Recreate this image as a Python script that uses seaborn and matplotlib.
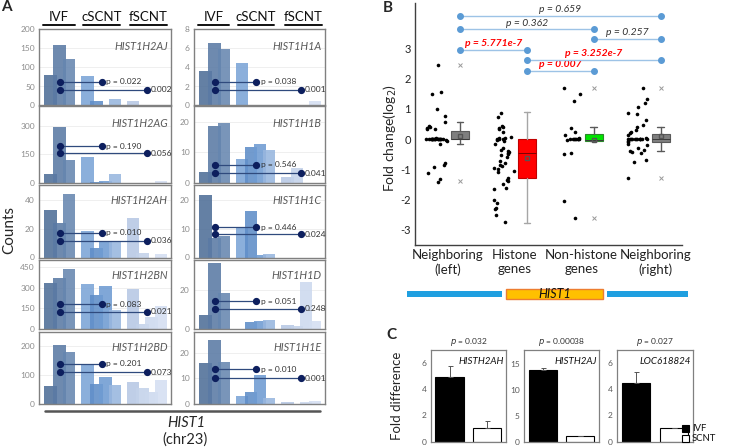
import numpy as np
import pandas as pd
import matplotlib
matplotlib.use("Agg")
import matplotlib.pyplot as plt
import seaborn as sns
from matplotlib.patches import Rectangle

# ---------------- data: panel A ----------------
gene_left = ['HIST1H2AJ', 'HIST1H2AG', 'HIST1H2AH', 'HIST1H2BN', 'HIST1H2BD']
ivf_left = [[80, 160, 122], [49, 295, 122], [32.6, 24, 43.6], [332, 366, 436], [64, 205, 182]]
csc_left = [[77, 12, 0, 18], [134, 6, 12, 46], [18, 6.6, 11.2, 11], [324, 245, 310, 138], [134, 70, 93, 65]]
fsc_left = [[13, 0, 0, 2], [0, 0, 0, 10], [27.3, 3, 0, 2.5], [290, 36, 87, 167], [76, 54, 43, 83]]
pc_left = ['p = 0.022', 'p = 0.190', 'p = 0.010', 'p = 0.083', 'p = 0.201']
pf_left = ['0.002', '0.056', '0.036', '0.021', '0.073']
ymax_left = [200, 400, 50, 500, 250]
ticks_left = [[0, 50, 100, 150, 200], [0, 150, 300], [0, 20, 40], [0, 150, 300, 450], [0, 100, 200]]

gene_right = ['HIST1H1A', 'HIST1H1B', 'HIST1H1C', 'HIST1H1D', 'HIST1H1E']
ivf_right = [[3.6, 6.6, 5.95], [3.5, 18.6, 19.5], [21.7, 6.8, 7.3], [7.1, 33.3, 18.1], [16.1, 25, 16.4]]
csc_right = [[4.45, 0, 0, 0], [7.7, 11.9, 12.9, 10.8], [10.2, 15.9, 0.8, 1.1], [0, 3.5, 4.0, 4.5], [3.3, 4.7, 11.4, 2.3]]
fsc_right = [[0, 0, 0, 0.46], [2.0, 4.9, 0, 0], [0, 0, 0, 0], [2.0, 1.7, 23.8, 3.9], [0.9, 0, 0.7, 1.2]]
pc_right = ['p = 0.038', 'p = 0.546', 'p = 0.446', 'p = 0.051', 'p = 0.010']
pf_right = ['0.001', '0.041', '0.024', '0.248', '0.001']
ymax_right = [8, 25, 25, 35, 28]
ticks_right = [[0, 2, 4, 6, 8], [0, 10, 20], [0, 10, 20], [0, 20], [0, 10, 20]]

group_names_A = ['IVF', 'cSCNT', 'fSCNT']

# ---------------- data: panel B ----------------
b_labels = ['Neighboring\n(left)', 'Histone\ngenes', 'Non-histone\ngenes', 'Neighboring\n(right)']
fc_left = [2.45, 1.57, 1.5, 1.0, 0.77, 0.55, 0.42, 0.4, 0.38, 0.35, 0.33, 0.05, 0.02,
           0, 0, 0, 0, 0, 0, 0, 0, 0, 0, 0, 0, 0, 0, 0, 0,
           -0.02, -0.05, -0.15, -0.78, -0.85, -0.92, -1.13, -1.33, -1.42]
fc_histone = [0.88, 0.72, 0.42, 0.4, 0.37, 0.34, 0.25, 0.08, 0.05, 0.03, 0.0, 0.0, 0.0,
              -0.02, -0.05, -0.15, -0.3, -0.35, -0.38, -0.42, -0.45, -0.5, -0.52, -0.6,
              -0.72, -0.8, -0.85, -0.9, -0.95, -1.0, -1.05, -1.1, -1.3, -1.35, -1.4,
              -1.5, -1.62, -1.65, -2.0, -2.1, -2.28, -2.3, -2.5, -2.75]
fc_nonhistone = [1.68, 1.48, 1.25, 0.38, 0.25, 0.15, 0.03, 0, 0, 0, 0, 0, 0, 0, 0,
                 -0.02, -0.45, -0.5, -2.03, -2.6]
fc_right = [1.68, 1.32, 1.2, 1.05, 0.88, 0.82, 0.63, 0.47, 0.4, 0.3, 0.25, 0.2, 0.15, 0.05,
            0, 0, 0, 0, 0, 0, 0, 0, 0, 0, 0, 0,
            -0.05, -0.1, -0.17, -0.2, -0.3, -0.35, -0.4, -0.42, -0.45, -0.7, -0.75, -1.3]

box_q1 = [0.0, -1.29, -0.06, -0.08]
box_med = [0.02, -0.47, -0.04, 0.0]
box_q3 = [0.27, 0.0, 0.17, 0.16]
box_lo = [-0.17, -2.76, -0.06, -0.38]
box_hi = [0.57, 0.89, 0.39, 0.39]
box_mean = [0.1, -0.63, -0.03, 0.1]
box_fliers = [[2.45, -1.4], [], [1.68, -2.6], [1.68, -1.3]]
box_colors = ['#7f7f7f', '#ff0000', '#00e400', '#7f7f7f']

bracket_pairs = [(0, 3), (0, 2), (2, 3), (0, 1), (1, 3), (1, 2)]
bracket_p = ['p = 0.659', 'p = 0.362', 'p = 0.257', 'p = 5.771e-7', 'p = 3.252e-7', 'p = 0.007']
bracket_sig = [False, False, False, True, True, True]

# ---------------- data: panel C ----------------
c_genes = ['HISTH2AH', 'HISTH2AJ', 'LOC618824']
c_p = ['0.032', '0.00038', '0.027']
c_ivf = [4.9, 13.9, 4.5]
c_ivf_err = [0.85, 0.3, 0.8]
c_scnt = [1.0, 1.0, 1.0]
c_scnt_err = [0.6, 0.0, 0.0]
c_ymax = [7.0, 17.7, 7.0]
c_ticks = [[0, 2, 4, 6], [0, 5, 10, 15], [0, 2, 4, 6]]

# ---------------- figure ----------------
sns.set_theme(style='white')
plt.rcParams['font.family'] = ['Lato', 'DejaVu Sans']

W, H = 736, 448
fig = plt.figure(figsize=(W / 100, H / 100), dpi=100)


def rect(x0, y0, x1, y1):
    return [x0 / W, 1 - y1 / H, (x1 - x0) / W, (y1 - y0) / H]


def ftext(x, y, s, **kw):
    return fig.text(x / W, 1 - y / H, s, **kw)


# ---------------- panel A ----------------
rows_px = [(29.5, 105.5), (106.5, 183), (185, 257.5), (260, 329), (332, 404)]
cols_px = [(39, 171), (194, 325)]
bar_pos = [0, 1, 2, 4, 5, 6, 7, 9, 10, 11, 12]
bar_cols = ['#4f6f98', '#5a7aa4', '#6686b0',
            '#7ba4d6', '#5f8dc8', '#6f9bd2', '#98b6de',
            '#b6c8e4', '#c3d2ea', '#ccd9ee', '#d4dff2']
pline_left = [(0.31, 0.21), (0.48, 0.386), (0.34, 0.23), (0.36, 0.25), (0.56, 0.44)]
pline_right = [(0.31, 0.21), (0.24, 0.13), (0.42, 0.32), (0.40, 0.29), (0.48, 0.36)]

col_data = [
    (gene_left, ivf_left, csc_left, fsc_left, pc_left, pf_left, ymax_left, ticks_left, pline_left),
    (gene_right, ivf_right, csc_right, fsc_right, pc_right, pf_right, ymax_right, ticks_right, pline_right),
]

for ci, (genes, ivf, csc, fsc, pcs, pfs, ymaxs, tks, plines) in enumerate(col_data):
    x0, x1 = cols_px[ci]
    for r in range(5):
        y0, y1 = rows_px[r]
        ax = fig.add_axes(rect(x0, y0, x1, y1))
        vals = ivf[r] + csc[r] + fsc[r]
        ax.bar(bar_pos, vals, width=1.35, color=bar_cols, alpha=0.88, linewidth=0, zorder=2)
        ax.set_xlim(-1.25, 13.1)
        ax.set_ylim(0, ymaxs[r])
        ax.set_yticks(tks[r])
        ax.set_xticks([])
        ax.grid(axis='y', color='#ececec', lw=0.6)
        ax.set_axisbelow(True)
        for s in ax.spines.values():
            s.set_color('#808080')
            s.set_linewidth(1.0)
        ax.tick_params(axis='y', length=0, pad=3, labelsize=6, labelcolor='#8c8c8c')
        ax.text(0.975, 0.78, genes[r], transform=ax.transAxes, ha='right', va='center',
                fontsize=7.8, style='italic', color='#595959')
        tr = ax.get_xaxis_transform()
        yu, yl = plines[r]
        ax.plot([1, 5.55], [yu, yu], color='#2f4a7d', lw=0.9, transform=tr, zorder=5)
        ax.plot([1, 5.55], [yu, yu], 'o', ms=4.2, color='#0d1f5e', transform=tr, zorder=6)
        ax.text(6.05, yu, pcs[r], transform=tr, va='center', fontsize=6, color='#333333')
        ax.plot([1, 10.45], [yl, yl], color='#2f4a7d', lw=0.9, transform=tr, zorder=5)
        ax.plot([1, 10.45], [yl, yl], 'o', ms=4.2, color='#0d1f5e', transform=tr, zorder=6)
        ax.text(10.9, yl, pfs[r], transform=tr, va='center', fontsize=6, color='#333333')

# group headers with underlines
hdr_spans = [[(43, 75), (83, 120), (130, 167)], [(198, 229), (238, 274), (285, 322)]]
for spans in hdr_spans:
    for name, (a, b) in zip(group_names_A, spans):
        ftext((a + b) / 2, 17, name, ha='center', va='center', fontsize=9.5, color='#111111')
        fig.add_artist(plt.Line2D([a / W, b / W], [1 - 25.5 / H, 1 - 25.5 / H], color='#111111', lw=1.4))

ftext(6, 7, 'A', fontsize=11, fontweight='bold', ha='center', va='center')
ftext(9, 230, 'Counts', fontsize=11, rotation=90, ha='center', va='center')
fig.add_artist(plt.Line2D([45 / W, 320 / W], [1 - 411 / H, 1 - 411 / H], color='#555555', lw=1.8))
ftext(186, 423, 'HIST1', fontsize=10.5, style='italic', ha='center', va='center')
ftext(185, 440, '(chr23)', fontsize=10.5, ha='center', va='center')

# ---------------- panel B ----------------
axB = fig.add_axes(rect(415, 3, 682, 245))
groups_vals = [fc_left, fc_histone, fc_nonhistone, fc_right]
dfB = pd.DataFrame({
    'pos': np.concatenate([[i - 0.17] * len(v) for i, v in enumerate(groups_vals)]),
    'fc': np.concatenate(groups_vals),
})
np.random.seed(3)
sns.stripplot(data=dfB, x='pos', y='fc', native_scale=True, jitter=0.16, color='black',
              size=2.6, linewidth=0, ax=axB, zorder=3)

stats = []
for i in range(4):
    stats.append({'med': box_med[i], 'q1': box_q1[i], 'q3': box_q3[i], 'whislo': box_lo[i],
                  'whishi': box_hi[i], 'mean': box_mean[i], 'fliers': box_fliers[i]})
bp = axB.bxp(stats, positions=[i + 0.18 for i in range(4)], widths=0.27, patch_artist=True,
             showmeans=True, capwidths=0.1,
             meanprops=dict(marker='s', markersize=2.5, markerfacecolor='none', markeredgecolor='#555555'),
             flierprops=dict(marker='x', markersize=3, markeredgecolor='#9a9a9a', markeredgewidth=0.7))
edge_cols = ['#5a5a5a', '#c00000', '#2a8a2a', '#5a5a5a']
whisk_cols = ['#5a5a5a', '#a6a6a6', '#5a5a5a', '#5a5a5a']
for i in range(4):
    bp['boxes'][i].set_facecolor(box_colors[i])
    bp['boxes'][i].set_edgecolor(edge_cols[i])
    bp['boxes'][i].set_linewidth(0.8)
    bp['medians'][i].set_color('#3a3a3a' if i != 1 else '#7a0000')
    bp['medians'][i].set_linewidth(0.7)
    for k in (2 * i, 2 * i + 1):
        bp['whiskers'][k].set_color(whisk_cols[i])
        bp['whiskers'][k].set_linewidth(1.0)
        bp['caps'][k].set_color(whisk_cols[i])
        bp['caps'][k].set_linewidth(1.0)

axB.set_xlim(-0.494, 3.5)
axB.set_ylim(-3.5, 4.5)
axB.set_yticks([-3, -2, -1, 0, 1, 2, 3])
axB.set_yticklabels(['-3', '-2', '-1', '0', '1', '2', '3'])
axB.set_xticks([0, 1, 2, 3.1])
axB.set_xticklabels(b_labels)
axB.set_xlabel('')
axB.set_ylabel('')
axB.tick_params(axis='x', length=0, pad=3, labelsize=9.5, labelcolor='#222222')
axB.tick_params(axis='y', length=0, pad=3, labelsize=8, labelcolor='#222222')
for s in ['top', 'right']:
    axB.spines[s].set_visible(False)
for s in ['left', 'bottom']:
    axB.spines[s].set_color('#404040')
    axB.spines[s].set_linewidth(1.0)

bracket_y = [4.08, 3.63, 3.30, 2.96, 2.62, 2.26]
for (a, b), p, sig, yb in zip(bracket_pairs, bracket_p, bracket_sig, bracket_y):
    xa, xb = a + 0.18, b + 0.18
    axB.plot([xa, xb], [yb, yb], color='#9dc3e6', lw=1.0, zorder=4, clip_on=False)
    axB.plot([xa, xb], [yb, yb], 'o', ms=4, color='#5b9bd5', zorder=5, clip_on=False)
    axB.text((xa + xb) / 2, yb + 0.06, p, ha='center', va='bottom', fontsize=7.5, style='italic',
             fontweight='bold' if sig else 'normal', color='#ff0000' if sig else '#333333', clip_on=False)

ftext(388, 7.5, 'B', fontsize=11, fontweight='bold', ha='center', va='center')
ftext(390, 138, 'Fold change(log$_2$)', fontsize=10, rotation=90, ha='center', va='center')

# chromosome bar
axH = fig.add_axes(rect(400, 284, 695, 304))
axH.set_xlim(400, 695)
axH.set_ylim(304, 284)
axH.axis('off')
axH.add_patch(Rectangle((407, 290.7), 95, 6, facecolor='#1f9fe0', edgecolor='none'))
axH.add_patch(Rectangle((607, 290.7), 81, 6, facecolor='#1f9fe0', edgecolor='none'))
axH.add_patch(Rectangle((506, 288.7), 97, 10.3, facecolor='#ffc000', edgecolor='#ed7d31', lw=1))
axH.text(554.5, 294, 'HIST1', style='italic', fontsize=9, ha='center', va='center', color='#111111')

# ---------------- panel C ----------------
c_axes_px = [(430.7, 506), (524, 599), (617, 692.7)]
c_top, c_bot = 350, 441.5
for i in range(3):
    a, b = c_axes_px[i]
    ax = fig.add_axes(rect(a, c_top, b, c_bot))
    dfc = pd.DataFrame({'grp': ['IVF', 'SCNT'], 'val': [c_ivf[i], c_scnt[i]]})
    sns.barplot(data=dfc, x='grp', y='val', hue='grp', palette={'IVF': 'black', 'SCNT': 'white'},
                edgecolor='black', linewidth=0.8, width=0.75, legend=False, ax=ax, zorder=2)
    ax.errorbar([0, 1], [c_ivf[i], c_scnt[i]], yerr=[[0, 0], [c_ivf_err[i], c_scnt_err[i]]],
                fmt='none', ecolor='#555555', elinewidth=0.7, capsize=1.8, capthick=0.7, zorder=3)
    ax.set_xlim(-0.5, 1.5)
    ax.set_ylim(0, c_ymax[i])
    ax.set_yticks(c_ticks[i])
    ax.set_xticks([])
    ax.set_xlabel('')
    ax.set_ylabel('')
    ax.tick_params(axis='y', length=0, pad=3, labelsize=6, labelcolor='#595959')
    for s in ax.spines.values():
        s.set_color('#808080')
        s.set_linewidth(0.9)
    ax.text(0.97, 0.87, c_genes[i], transform=ax.transAxes, ha='right', va='center',
            fontsize=7, style='italic', color='#111111')
    ftext((a + b) / 2, 342, '$\\it{p}$ = ' + c_p[i], ha='center', va='center', fontsize=6, color='#333333')

ftext(391, 335, 'C', fontsize=11, fontweight='bold', ha='center', va='center')
ftext(397, 396, 'Fold difference', fontsize=9.5, rotation=90, ha='center', va='center')
for yc, fc, lab in [(428.5, 'black', 'IVF'), (438.5, 'white', 'SCNT')]:
    fig.add_artist(Rectangle((682 / W, 1 - (yc + 3.5) / H), 7 / W, 7 / H, facecolor=fc,
                             edgecolor='black', lw=0.8, transform=fig.transFigure))
    ftext(692, yc, lab, fontsize=6.8, ha='left', va='center', color='#111111')

fig.savefig('out.png', dpi=100)
